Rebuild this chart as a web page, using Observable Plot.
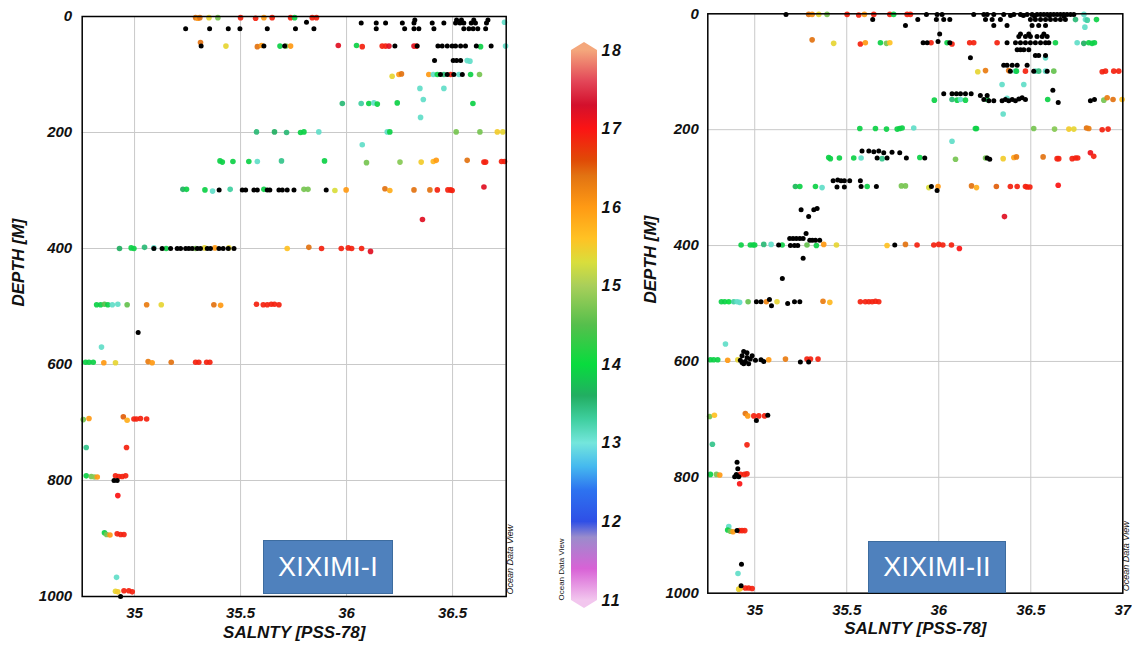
<!DOCTYPE html>
<html><head><meta charset="utf-8">
<script src="https://cdn.jsdelivr.net/npm/d3@7"></script>
<script src="https://cdn.jsdelivr.net/npm/@observablehq/plot@0.6"></script>
<style>
html,body{margin:0;padding:0;background:#fff;}
#wrap{position:relative;width:1132px;height:646px;overflow:hidden;background:#fff;}
.tag{position:absolute;background:#4f81bd;border:1.5px solid #3d6c9f;color:#fff;font-family:"Liberation Sans",Arial,sans-serif;font-size:27px;display:flex;align-items:center;justify-content:center;box-sizing:border-box;letter-spacing:0.3px;}
.cbar g[aria-label="y-axis tick label"] text{letter-spacing:1.5px;}
</style></head><body><div id="wrap"></div>
<script>
// ---------------- data ----------------
const depthTicks = [0, 200, 400, 600, 800, 1000];
const salTicksI = [35, 35.5, 36, 36.5];
const salTicksII = [35, 35.5, 36, 36.5, 37];
const tempTicks = [11, 12, 13, 14, 15, 16, 17, 18];
const tempStops = [11, 11.4, 11.8, 12, 12.4, 12.7, 13, 13.3, 13.6, 14, 14.5, 15, 15.3, 15.6, 16, 16.4, 16.6, 17, 17.3, 17.6, 18];
const tempColors = ["#f2c6ee","#d862d6","#9a8ccc","#2f4fe6","#2d73f0","#45b9ef","#74e6dc","#3fcf9f","#22ae62","#08dc3e","#55bf4c","#a9cf5a","#d9de3c","#ffc224","#ff9a14","#e27312","#e04a06","#fb1414","#d3102c","#e34658","#f4a77c"];

// XIXIMI-I : [salinity, depth, temperature]
const cruiseIColored = [
[35.288,2,16.4],[35.299,3,16.0],[35.308,2,16.4],[35.351,2,15.4],[35.393,2,14.7],[35.50,2,16.9],[35.571,3,16.9],[35.61,2,16.0],[35.649,2,16.9],[35.736,2,16.9],[35.755,2,13.9],[35.838,2,16.9],[35.858,2,16.9],
[36.745,10,13.1],
[35.311,45,16.4],[35.431,51,15.4],[35.579,52,16.4],[35.599,50,16.0],[35.686,51,13.9],[35.714,51,14.7],[35.736,51,16.0],[35.961,50,17.2],[36.047,50,13.9],[36.074,52,16.9],[36.168,51,16.9],[36.184,51,16.9],[36.2,51,17.2],[36.318,51,17.2],[36.33,51,16.9],[36.632,52,13.9],[36.75,51,13.1],
[36.569,76,13.1],[36.582,77,13.1],
[36.215,103,15.4],[36.247,100,16.0],[36.259,99,16.4],[36.388,100,16.0],[36.409,100,13.1],[36.428,100,13.9],[36.459,100,13.5],[36.491,100,16.9],[36.53,100,13.1],[36.585,100,13.9],[36.627,100,14.7],
[36.346,124,13.1],[36.459,124,13.1],[36.362,143,13.1],[36.349,174,13.1],
[35.98,150,13.5],[36.069,150,13.3],[36.105,150,13.9],[36.129,149,13.1],[36.145,151,13.9],[36.239,149,13.9],[36.596,150,13.9],
[35.575,199,13.5],[35.66,199,13.6],[35.717,200,13.5],[35.783,200,13.9],[35.799,199,13.9],[35.869,199,13.1],[36.192,199,13.1],[36.204,199,13.9],[36.517,199,14.7],[36.629,199,14.7],[36.711,199,15.5],[36.737,199,15.4],
[36.074,221,13.1],
[35.403,249,13.9],[35.414,251,13.9],[35.464,250,13.9],[35.539,250,13.9],[35.579,250,13.1],[35.693,249,13.4],[35.896,249,13.9],[36.094,252,14.7],[36.252,251,14.8],[36.352,251,15.5],[36.409,250,15.7],[36.423,248,16.0],[36.569,248,16.4],[36.648,251,16.9],[36.656,251,16.9],[36.731,250,16.9],[36.745,250,16.9],
[35.228,298,13.6],[35.245,298,13.9],[35.332,299,13.9],[35.368,301,13.1],[35.451,298,13.3],[35.61,298,13.9],[35.799,298,14.7],[35.818,298,14.7],[35.945,300,15.3],[35.998,299,16.0],[36.181,297,16.4],[36.204,300,15.8],[36.318,299,16.4],[36.393,299,16.4],[36.428,299,16.9],[36.478,299,16.9],[36.491,299,16.9],[36.498,300,16.9],[36.648,294,17.2],
[36.358,350,17.2],
[34.929,400,13.6],[34.984,399,13.9],[34.997,400,13.9],[35.047,398,13.5],[35.091,399,13.1],[35.149,400,13.9],[35.288,400,14.7],[35.33,399,15.4],[35.379,399,16.0],[35.445,399,15.4],[35.72,400,15.6],[35.822,398,16.4],[35.882,400,16.9],[35.975,400,16.9],[36.008,399,16.9],[36.024,400,16.9],[36.071,400,16.9],[36.113,405,17.2],
[34.821,497,13.9],[34.84,497,13.9],[34.858,496,14.5],[34.874,497,13.9],[34.895,497,13.1],[34.921,496,13.1],[34.965,497,14.6],[35.057,497,16.3],[35.126,497,15.4],[35.374,497,16.4],[35.406,498,16.0],[35.575,496,16.9],[35.607,497,16.9],[35.626,497,16.9],[35.645,496,16.9],[35.66,496,16.9],[35.681,497,16.9],
[34.844,570,13.1],
[34.769,596,13.9],[34.785,596,13.9],[34.805,596,13.9],[34.855,597,16.0],[34.91,597,15.4],[35.064,595,16.3],[35.083,597,16.0],[35.173,596,16.4],[35.288,596,16.9],[35.303,596,16.9],[35.34,596,16.9],[35.355,596,16.9],
[34.758,695,14.7],[34.785,693,16.0],[34.947,690,16.5],[34.965,696,15.8],[34.997,694,16.9],[35.009,694,16.9],[35.028,693,16.9],[35.057,694,16.9],
[34.772,743,13.4],[34.962,743,16.9],
[34.772,792,13.9],[34.796,793,14.7],[34.811,794,14.8],[34.824,794,16.0],[34.91,792,16.9],[34.926,793,16.9],[34.942,793,16.9],[34.958,792,16.9],[34.921,826,17.0],
[34.858,890,13.9],[34.868,893,14.7],[34.884,894,16.0],[34.918,892,16.9],[34.934,893,16.9],[34.95,893,16.9],
[34.915,967,13.1],
[34.91,991,15.4],[34.921,992,15.5],[34.95,990,16.9],[34.973,990,16.9],[34.989,992,16.9]
];
// XIXIMI-I : samples without a temperature value (black) [salinity, depth]
const cruiseIBlack = [
[35.241,21],[35.354,21],[35.442,21],[35.497,21],[35.626,21],[35.759,21],[35.811,10],[35.846,21],
[36.069,11],[36.14,11],[36.184,11],[36.263,11],[36.318,11],[36.404,11],[36.459,11],[36.514,11],[36.535,11],[36.553,11],[36.588,11],[36.608,11],[36.66,11],
[36.14,21],[36.274,21],[36.318,21],[36.341,21],[36.412,21],[36.553,21],[36.577,21],[36.597,21],[36.619,21],[36.656,21],
[36.322,6],[36.519,6],[36.542,6],[36.6,6],[36.667,6],
[35.314,51],[35.61,51],[35.708,51],[36.228,51],[36.333,51],[36.431,51],[36.451,51],[36.475,51],[36.498,51],[36.514,51],[36.538,51],[36.561,51],[36.612,51],[36.682,51],
[36.415,76],[36.503,76],[36.519,76],[36.538,76],
[36.443,100],[36.475,100],[36.506,100],[36.546,100],
[35.399,299],[35.508,299],[35.524,299],[35.563,299],[35.579,299],[35.626,299],[35.638,299],[35.681,299],[35.697,299],[35.72,299],[35.752,299],[35.904,299],
[35.091,400],[35.13,400],[35.17,400],[35.201,400],[35.217,400],[35.241,400],[35.256,400],[35.272,400],[35.296,400],[35.311,400],[35.343,400],[35.358,400],[35.398,400],[35.418,400],[35.442,400],[35.469,400],
[35.017,545],[34.903,800],[34.918,800],[34.934,1000]
];

// XIXIMI-II : [salinity, depth, temperature]
const cruiseIIColored = [
[35.293,1,16.4],[35.312,1,16.1],[35.348,1,15.4],[35.393,1,14.7],[35.502,1,16.9],[35.565,2,16.9],[35.596,1,16.0],[35.647,1,16.9],[35.734,1,16.9],[35.755,1,13.9],[35.828,1,16.9],[35.846,1,16.9],[36.789,1,13.1],
[36.743,10,13.5],[36.797,10,13.1],[36.857,10,13.9],[36.807,11,13.3],[36.794,23,13.1],
[35.312,45,16.4],[35.429,51,15.4],[35.574,52,16.9],[35.601,50,16.0],[35.683,50,13.9],[35.716,51,14.7],[35.734,50,15.6],[35.958,50,16.9],[36.045,50,13.9],[36.072,52,16.9],[36.168,50,16.9],[36.19,50,16.9],[36.317,50,16.9],[36.634,50,13.9],[36.752,50,13.1],[36.788,51,13.6],[36.815,50,13.9],[36.833,51,13.9],[36.846,50,13.9],
[36.58,76,13.1],
[36.212,100,15.4],[36.254,98,16.3],[36.38,98,16.4],[36.417,99,13.1],[36.422,99,13.9],[36.471,99,16.9],[36.525,99,13.1],[36.543,99,13.5],[36.58,99,13.1],[36.625,99,14.6],[36.888,100,16.9],[36.906,99,16.9],[36.951,99,16.9],[36.978,99,16.9],
[36.344,122,13.1],[36.462,122,13.1],
[35.976,149,13.9],[36.072,148,13.5],[36.1,149,13.9],[36.118,148,13.1],[36.145,149,13.9],[36.263,148,13.9],[36.371,146,13.1],[36.592,148,13.9],[36.897,149,14.7],[36.915,145,16.3],[36.947,148,16.4],[36.996,148,15.6],
[36.35,173,13.1],
[35.571,198,13.9],[35.656,198,13.9],[35.716,199,13.9],[35.774,199,13.9],[35.788,198,13.9],[35.801,197,13.9],[35.864,197,13.1],[36.199,198,13.9],[36.205,198,13.9],[36.516,198,14.7],[36.629,199,14.8],[36.707,199,15.5],[36.734,199,15.4],[36.803,197,16.4],[36.815,198,16.3],[36.888,200,16.9],[36.92,199,16.9],
[36.072,220,13.1],
[35.402,248,13.9],[35.411,250,13.9],[35.46,249,13.9],[35.538,249,13.9],[35.578,249,13.1],[35.692,250,13.4],[35.897,248,13.9],[36.091,251,14.7],[36.254,249,14.7],[36.35,250,15.5],[36.408,248,15.9],[36.422,247,16.3],[36.567,247,16.4],[36.643,250,16.9],[36.652,250,16.9],[36.725,250,16.9],[36.743,249,16.9],[36.755,249,16.9],[36.824,240,17.1],[36.842,246,16.9],
[35.221,298,13.7],[35.245,298,13.9],[35.33,298,13.9],[35.366,300,13.1],[35.611,298,13.9],[35.797,297,14.7],[35.819,297,14.7],[35.946,300,15.3],[35.996,298,16.0],[36.178,297,16.4],[36.205,300,15.8],[36.313,298,16.5],[36.389,298,16.9],[36.426,298,16.9],[36.471,298,16.9],[36.48,299,16.9],[36.495,299,16.9],[36.649,296,17.0],
[36.357,350,17.2],
[34.926,399,13.9],[34.976,399,13.9],[34.991,399,13.9],[35.0,399,13.9],[35.049,398,13.5],[35.089,398,13.1],[35.149,399,13.9],[35.284,399,14.6],[35.335,400,13.9],[35.375,398,16.0],[35.444,399,15.4],[35.719,400,15.6],[35.819,398,16.4],[35.882,399,16.9],[35.973,399,16.9],[36.0,398,16.9],[36.022,399,16.9],[36.069,399,16.9],[36.112,405,17.0],
[34.819,497,13.9],[34.837,497,13.9],[34.859,497,14.0],[34.886,497,13.3],[34.904,497,13.1],[34.918,498,13.1],[34.964,497,14.6],[35.063,497,16.2],[35.121,497,15.4],[35.371,496,16.3],[35.408,498,15.7],[35.574,497,16.9],[35.601,497,16.9],[35.62,497,16.9],[35.638,497,16.9],[35.656,496,16.9],[35.674,497,16.9],
[34.841,570,13.1],
[34.759,597,13.9],[34.777,597,13.9],[34.799,597,13.9],[34.853,598,16.0],[34.908,597,15.4],[35.076,597,16.0],[35.167,596,16.3],[35.284,596,16.9],[35.303,596,16.9],[35.344,596,16.9],
[34.755,695,14.7],[34.781,693,15.6],[34.949,690,16.4],[34.962,694,16.0],[34.995,694,16.9],[35.022,694,16.9],[35.053,694,16.9],
[34.77,743,13.4],[34.958,744,16.9],
[34.759,795,13.9],[34.792,795,14.7],[34.81,796,16.0],[34.922,795,16.9],[34.944,795,16.9],[34.958,794,16.9],[34.918,811,17.0],
[34.859,885,13.1],[34.853,891,13.9],[34.868,893,14.7],[34.882,894,16.0],[34.917,892,16.9],[34.931,892,16.9],[34.946,892,16.9],
[34.909,966,13.1],
[34.913,993,15.4],[34.922,992,15.5],[34.949,991,16.9],[34.967,991,16.9],[34.986,992,16.9]
];
// XIXIMI-II : samples without a temperature value (black) [salinity, depth]
const cruiseIIBlack = [
[35.17,1],[35.933,1],[35.991,1],[36.018,1],[36.19,1],[36.245,1],[36.263,1],[36.299,1],[36.353,1],[36.408,1],[36.444,1],[36.48,1],[36.507,1],[36.534,1],[36.553,1],[36.571,1],[36.589,1],[36.607,1],[36.625,1],[36.643,1],[36.661,1],[36.679,1],[36.697,1],[36.716,1],[36.734,1],
[36.39,3],[36.46,3],[36.52,4],[36.6,3],[36.68,4],
[35.641,10],[35.886,10],[35.987,10],[36.027,10],[36.06,10],[36.254,10],[36.29,10],[36.335,10],[36.498,10],[36.525,10],[36.553,10],[36.58,10],[36.607,10],[36.634,10],[36.661,10],[36.688,10],
[35.819,20],[36.299,20],[36.371,20],[36.507,20],[36.543,20],[36.58,20],
[36.005,35],[36.444,35],[36.489,35],[36.571,35],
[36.435,39],[36.471,39],[36.498,39],[36.534,39],[36.562,39],[36.589,39],
[35.915,50],[35.937,50],[35.996,48],[36.06,50],[36.371,50],[36.417,50],[36.444,50],[36.471,50],[36.498,50],[36.525,50],[36.553,50],[36.58,50],[36.598,50],
[36.426,62],[36.444,62],[36.462,62],[36.489,62],
[36.525,72],[36.543,72],[36.58,72],[36.172,76],
[36.353,89],[36.371,89],[36.399,89],[36.426,89],[36.48,89],
[36.389,99],[36.516,99],[36.589,99],[36.62,132],
[36.027,138],[36.072,138],[36.096,138],[36.118,138],[36.145,138],[36.176,138],[36.226,141],[36.263,141],
[36.245,148],[36.272,150],[36.299,150],[36.344,150],[36.362,148],[36.38,150],[36.399,148],[36.417,150],[36.435,147],[36.453,145],[36.471,148],[36.649,153],[36.824,150],[36.846,148],
[35.583,237],[35.62,237],[35.647,238],[35.674,237],[35.701,240],[35.746,239],[35.788,240],[35.665,249],[35.719,249],[35.824,249],[35.924,249],[36.263,249],[36.277,251],
[35.426,288],[35.451,287],[35.469,288],[35.487,288],[35.516,288],[35.447,299],[35.487,299],[35.574,288],[35.578,298],[35.661,298],[35.96,298],[35.991,305],
[35.252,338],[35.339,336],[35.321,338],[35.293,350],
[35.13,399],[35.19,388],[35.208,388],[35.226,388],[35.245,388],[35.263,388],[35.194,400],[35.216,400],[35.234,400],[35.279,379],[35.299,391],[35.313,391],[35.33,391],[35.353,391],[35.263,422],[35.761,399],
[35.15,457],
[35.009,497],[35.034,497],[35.08,493],[35.091,504],[35.179,500],[35.216,497],[35.245,497],
[34.922,598],[34.931,590],[34.94,583],[34.949,600],[34.958,593],[34.967,604],[34.976,596],[34.986,590],[35.004,598],[34.94,604],[34.958,585],[34.931,602],[35.034,597],[35.049,600],[35.248,601],[35.293,601],
[35.071,693],[35.009,702],
[34.904,774],[34.908,785],[34.891,799],[34.913,799],[34.9,795],
[34.904,892],[34.928,950],[34.926,987]
];

// ---------------- drawing ----------------
const FONT = "'Liberation Sans', Arial, Helvetica, sans-serif";
const wrap = document.getElementById("wrap");
const colorScale = {type: "linear", domain: tempStops, range: tempColors, clamp: true};

function panel(o) {
  return Plot.plot({
    width: o.width, height: 646,
    marginLeft: o.mL, marginRight: o.mR, marginTop: o.mT, marginBottom: o.mB,
    style: {position: "absolute", left: o.left + "px", top: "0px", background: "transparent",
            fontFamily: FONT, fontSize: "15px", fontWeight: "bold", fontStyle: "italic", color: "#111", overflow: "visible"},
    x: {domain: o.xDomain, axis: null},
    y: {domain: [0, 1000], reverse: true, axis: null},
    color: colorScale,
    marks: [
      Plot.gridX({ticks: o.xTicks, stroke: "#c9c9c9", strokeOpacity: 1, strokeWidth: 1}),
      Plot.gridY({ticks: depthTicks, stroke: "#c9c9c9", strokeOpacity: 1, strokeWidth: 1}),
      Plot.dot(o.colored, {x: d => d[0], y: d => d[1], fill: d => d[2], r: 2.8, fillOpacity: 0.93}),
      Plot.dot(o.black, {x: d => d[0], y: d => d[1], fill: "#000", r: 2.5}),
      Plot.frame({stroke: "#000", strokeWidth: 1.5}),
      Plot.axisX({ticks: o.xTicks, tickSize: 0, tickPadding: 11, label: null, tickFormat: d => String(d)}),
      Plot.axisY({ticks: depthTicks, tickSize: 0, tickPadding: o.yPad, label: null, tickFormat: d => String(d)}),
      Plot.text(["SALNTY [PSS-78]"], {text: d => d, frameAnchor: "bottom", dy: 41, fontSize: 17}),
      Plot.text(["DEPTH [M]"], {text: d => d, frameAnchor: "left", dx: o.yLabDx, rotate: -90, fontSize: 17}),
      Plot.text(["Ocean Data View"], {text: d => d, frameAnchor: "bottom-right", dx: o.odvDx, dy: -2, rotate: -90, textAnchor: "start", fontSize: 9, fontWeight: "normal"})
    ]
  });
}

wrap.appendChild(panel({left: 0, width: 520, mL: 81.7, mR: 14.3, mT: 16, mB: 50, xDomain: [34.753, 36.753], xTicks: salTicksI,
  colored: cruiseIColored, black: cruiseIBlack, yPad: 10, yLabDx: -64, odvDx: 7}));
wrap.appendChild(panel({left: 620, width: 512, mL: 87.3, mR: 9.7, mT: 13.3, mB: 53.3, xDomain: [34.745, 37], xTicks: salTicksII,
  colored: cruiseIIColored, black: cruiseIIBlack, yPad: 9, yLabDx: -57, odvDx: 6}));

// colour bar
function colorbar(index, scales, values, dim) {
  const y = scales.y;
  const x0 = dim.marginLeft, x1 = dim.width - dim.marginRight;
  const top = y(18), bot = y(11), cap = 8;
  const g = d3.create("svg:g");
  const grad = g.append("defs").append("linearGradient")
    .attr("id", "cbgrad").attr("gradientUnits", "userSpaceOnUse")
    .attr("x1", 0).attr("x2", 0).attr("y1", top).attr("y2", bot);
  for (let i = tempStops.length - 1; i >= 0; i--) {
    grad.append("stop").attr("offset", (y(tempStops[i]) - top) / (bot - top)).attr("stop-color", tempColors[i]);
  }
  g.append("rect").attr("x", x0).attr("y", top).attr("width", x1 - x0).attr("height", bot - top).attr("fill", "url(#cbgrad)");
  g.append("polygon").attr("points", `${x0},${top} ${x1},${top} ${(x0 + x1) / 2},${top - cap}`).attr("fill", tempColors[tempColors.length - 1]);
  g.append("polygon").attr("points", `${x0},${bot} ${x1},${bot} ${(x0 + x1) / 2},${bot + cap}`).attr("fill", tempColors[0]);
  return g.node();
}

const cbar = Plot.plot({
  width: 90, height: 646, marginLeft: 23, marginRight: 41, marginTop: 50, marginBottom: 46,
  style: {position: "absolute", left: "548px", top: "0px", background: "transparent", overflow: "visible",
          fontFamily: FONT, fontSize: "16px", fontWeight: "bold", fontStyle: "italic", color: "#111"},
  x: {domain: [0, 1], axis: null},
  y: {domain: [11, 18], axis: null},
  marks: [
    colorbar,
    Plot.axisY({ticks: tempTicks, anchor: "right", tickSize: 0, tickPadding: 4, label: null, tickFormat: d => String(d)}),
    Plot.text(["Ocean Data View"], {text: d => d, frameAnchor: "bottom-left", dx: -8, rotate: -90, textAnchor: "start", fontSize: 8, fontWeight: "normal", fontStyle: "normal"})
  ]
});
cbar.classList.add("cbar");
wrap.appendChild(cbar);

// cruise tags
const tags = [
  {label: "XIXIMI-I", left: 263, top: 540, w: 130, h: 54},
  {label: "XIXIMI-II", left: 868, top: 541, w: 138, h: 52}
];
tags.forEach(t => {
  const d = document.createElement("div");
  d.className = "tag";
  d.textContent = t.label;
  Object.assign(d.style, {left: t.left + "px", top: t.top + "px", width: t.w + "px", height: t.h + "px"});
  wrap.appendChild(d);
});
</script></body></html>
